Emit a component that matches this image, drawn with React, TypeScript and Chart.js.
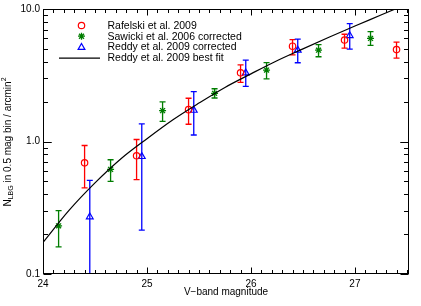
import React, { useEffect, useRef } from "react";
import { Chart, registerables } from "chart.js";

Chart.register(...registerables);

// ---- data ----
const rafelskiMag = [24.4, 24.9, 25.4, 25.9, 26.4, 26.9, 27.4];
const rafelskiN = [0.69, 0.78, 1.74, 3.3, 5.24, 5.83, 4.94];
const rafelskiLo = [0.446, 0.515, 1.35, 2.79, 4.51, 5.07, 4.26];
const rafelskiHi = [0.933, 1.035, 2.12, 3.79, 5.87, 6.45, 5.62];

const sawickiMag = [24.15, 24.65, 25.15, 25.65, 26.15, 26.65, 27.15];
const sawickiN = [0.231, 0.616, 1.71, 2.31, 3.46, 4.89, 6.0];
const sawickiLo = [0.16, 0.5, 1.42, 2.13, 2.97, 4.36, 5.31];
const sawickiHi = [0.301, 0.728, 1.99, 2.5, 3.94, 5.38, 6.75];

const reddyMag = [24.45, 24.95, 25.45, 25.95, 26.45, 26.95];
const reddyN = [0.27, 0.77, 1.72, 3.29, 4.89, 6.3];
const reddyLo = [0.01, 0.214, 1.12, 2.61, 3.93, 4.98];
const reddyHi = [0.509, 1.36, 2.38, 4.11, 5.92, 7.76];

const fitMag = [24.0, 24.25, 24.5, 24.75, 25.0, 25.25, 25.5, 25.75, 26.0, 26.25, 26.5, 26.75, 27.0, 27.25, 27.5];
const fitN = [0.173, 0.302, 0.487, 0.741, 1.05, 1.46, 1.95, 2.56, 3.24, 4.07, 5.0, 6.12, 7.45, 9.0, 10.9];

const xTickValues = [24, 25, 26, 27];
const xTickLabels = ["24", "25", "26", "27"];
const yTickValues = [0.1, 1, 10];
const yTickLabels = ["0.1", "1.0", "10.0"];

const legendLabels = [
  "Rafelski et al. 2009",
  "Sawicki et al. 2006 corrected",
  "Reddy et al. 2009 corrected",
  "Reddy et al. 2009 best fit",
];

const RED = "rgb(255,0,0)";
const GREEN = "rgb(0,125,0)";
const BLUE = "rgb(0,0,255)";
const FONT = '"Liberation Sans", Arial, Helvetica, sans-serif';

const pts = (xs: number[], ys: number[]) => xs.map((x, i) => ({ x, y: ys[i] }));

export default function App() {
  const ref = useRef<HTMLCanvasElement>(null);

  useEffect(() => {
    document.body.style.margin = "0";
    const canvas = ref.current!;

    const errSeries = [
      { xs: rafelskiMag, lo: rafelskiLo, hi: rafelskiHi, color: RED },
      { xs: sawickiMag, lo: sawickiLo, hi: sawickiHi, color: GREEN },
      { xs: reddyMag, lo: reddyLo, hi: reddyHi, color: BLUE },
    ];

    const errorBars = {
      id: "errorBars",
      beforeDatasetsDraw(chart: any) {
        const { ctx, chartArea: a, scales } = chart;
        const xs = scales.x, ys = scales.y;
        ctx.save();
        ctx.beginPath();
        ctx.rect(a.left, a.top, a.right - a.left, a.bottom - a.top);
        ctx.clip();
        ctx.lineWidth = 1.3;
        for (const s of errSeries) {
          ctx.strokeStyle = s.color;
          s.xs.forEach((xv, i) => {
            const px = xs.getPixelForValue(xv);
            const pl = ys.getPixelForValue(s.lo[i]);
            const ph = ys.getPixelForValue(s.hi[i]);
            ctx.beginPath();
            ctx.moveTo(px, pl);
            ctx.lineTo(px, ph);
            ctx.moveTo(px - 3, pl);
            ctx.lineTo(px + 3, pl);
            ctx.moveTo(px - 3, ph);
            ctx.lineTo(px + 3, ph);
            ctx.stroke();
          });
        }
        ctx.restore();
      },
    };

    const frame = {
      id: "frame",
      afterDraw(chart: any) {
        const { ctx, chartArea: a, scales } = chart;
        const xs = scales.x, ys = scales.y;
        ctx.save();
        ctx.strokeStyle = "#000";
        ctx.lineWidth = 1;
        const L = Math.round(a.left) + 0.5, R = Math.round(a.right) - 0.5;
        const T = Math.round(a.top) + 0.5, B = Math.round(a.bottom) - 0.5;
        ctx.strokeRect(L, T, R - L, B - T);
        ctx.beginPath();
        for (let k = 0; k <= 35; k++) {
          const v = 24 + k * 0.1;
          if (v > xs.max + 1e-9) break;
          const major = k % 10 === 0;
          const len = major ? 6 : 3.5;
          const px = Math.round(xs.getPixelForValue(v)) + 0.5;
          ctx.moveTo(px, B);
          ctx.lineTo(px, B - len);
          ctx.moveTo(px, T);
          ctx.lineTo(px, T + len);
        }
        for (const dec of [0.1, 1]) {
          for (let m = 1; m <= 10; m++) {
            const v = dec * m;
            const major = m === 1 || m === 10;
            const len = major ? 8 : 4.5;
            const py = Math.round(ys.getPixelForValue(v)) + 0.5;
            ctx.moveTo(L, py);
            ctx.lineTo(L + len, py);
            ctx.moveTo(R, py);
            ctx.lineTo(R - len, py);
          }
        }
        ctx.stroke();
        ctx.restore();
      },
    };

    const legend = {
      id: "customLegend",
      afterDraw(chart: any) {
        const ctx = chart.ctx;
        ctx.save();
        const mx = 81.5, tx = 107.5, y0 = 25.5, dy = 10.7;
        ctx.lineWidth = 1.2;
        ctx.strokeStyle = RED;
        ctx.beginPath();
        ctx.arc(mx, y0, 3.2, 0, Math.PI * 2);
        ctx.stroke();
        ctx.strokeStyle = GREEN;
        ctx.lineWidth = 1.3;
        const gy = y0 + dy;
        ctx.beginPath();
        const r = 3.5;
        ctx.moveTo(mx - r, gy); ctx.lineTo(mx + r, gy);
        ctx.moveTo(mx, gy - r); ctx.lineTo(mx, gy + r);
        const d = r * 0.707;
        ctx.moveTo(mx - d, gy - d); ctx.lineTo(mx + d, gy + d);
        ctx.moveTo(mx - d, gy + d); ctx.lineTo(mx + d, gy - d);
        ctx.stroke();
        ctx.strokeStyle = BLUE;
        ctx.lineWidth = 1.2;
        const by = y0 + 2 * dy + 0.5;
        const tr = 3.9;
        ctx.beginPath();
        ctx.moveTo(mx, by - tr);
        ctx.lineTo(mx + tr * 0.866, by + tr * 0.5);
        ctx.lineTo(mx - tr * 0.866, by + tr * 0.5);
        ctx.closePath();
        ctx.stroke();
        ctx.strokeStyle = "#000";
        ctx.lineWidth = 1.2;
        const ly = y0 + 3 * dy + 0.5;
        ctx.beginPath();
        ctx.moveTo(59, ly);
        ctx.lineTo(100, ly);
        ctx.stroke();
        ctx.fillStyle = "#000";
        ctx.font = `10.5px ${FONT}`;
        ctx.textBaseline = "middle";
        ctx.textAlign = "left";
        legendLabels.forEach((t, i) => ctx.fillText(t, tx, y0 + i * dy + 0.5));
        ctx.restore();
      },
    };

    const yTitle = {
      id: "yTitle",
      afterDraw(chart: any) {
        const ctx = chart.ctx;
        ctx.save();
        ctx.translate(10.5, 142);
        ctx.rotate(-Math.PI / 2);
        ctx.fillStyle = "#000";
        ctx.textBaseline = "alphabetic";
        ctx.textAlign = "left";
        const big = `10px ${FONT}`;
        const small = `7px ${FONT}`;
        const parts = [
          { t: "N", f: big, dy: 0 },
          { t: "LBG", f: small, dy: 2.5 },
          { t: " in 0.5 mag bin / arcmin", f: big, dy: 0 },
          { t: "2", f: small, dy: -4.5 },
        ];
        let W = 0;
        const widths = parts.map((p) => {
          ctx.font = p.f;
          const w = ctx.measureText(p.t).width;
          W += w;
          return w;
        });
        let x = -W / 2;
        parts.forEach((p, i) => {
          ctx.font = p.f;
          ctx.fillText(p.t, x, p.dy);
          x += widths[i];
        });
        ctx.restore();
      },
    };

    const chart = new Chart(canvas, {
      type: "scatter",
      data: {
        datasets: [
          {
            label: legendLabels[3],
            data: pts(fitMag, fitN),
            showLine: true,
            borderColor: "#000",
            borderWidth: 1.2,
            pointRadius: 0,
            cubicInterpolationMode: "monotone",
          },
          {
            label: legendLabels[0],
            data: pts(rafelskiMag, rafelskiN),
            pointStyle: "circle",
            pointRadius: 3.2,
            borderColor: RED,
            backgroundColor: "rgba(0,0,0,0)",
            borderWidth: 1.2,
          },
          {
            label: legendLabels[1],
            data: pts(sawickiMag, sawickiN),
            pointStyle: "star",
            pointRadius: 3.5,
            borderColor: GREEN,
            backgroundColor: GREEN,
            borderWidth: 1.3,
          },
          {
            label: legendLabels[2],
            data: pts(reddyMag, reddyN),
            pointStyle: "triangle",
            pointRadius: 3.9,
            borderColor: BLUE,
            backgroundColor: "rgba(0,0,0,0)",
            borderWidth: 1.2,
          },
        ],
      } as any,
      options: {
        responsive: false,
        animation: false,
        devicePixelRatio: 1,
        layout: { padding: { top: 8, right: 12, left: 0, bottom: 0 } },
        plugins: {
          legend: { display: false },
          tooltip: { enabled: false },
        },
        scales: {
          x: {
            type: "linear",
            min: 24,
            max: 27.52,
            afterBuildTicks: (s: any) => {
              s.ticks = xTickValues.map((v) => ({ value: v }));
            },
            afterFit: (s: any) => {
              s.height = 32;
            },
            ticks: {
              color: "#000",
              font: { family: FONT, size: 10 },
              padding: 4,
              maxRotation: 0,
              autoSkip: false,
              callback: (v: any) => xTickLabels[xTickValues.indexOf(Number(v))] ?? "",
            },
            grid: { display: false, drawTicks: false },
            border: { display: false },
            title: {
              display: true,
              text: "V−band magnitude",
              color: "#000",
              font: { family: FONT, size: 10 },
              padding: { top: 0, bottom: 8 },
            },
          },
          y: {
            type: "logarithmic",
            min: 0.1,
            max: 10,
            afterBuildTicks: (s: any) => {
              s.ticks = yTickValues.map((v) => ({ value: v }));
            },
            afterFit: (s: any) => {
              s.width = 43;
            },
            ticks: {
              color: "#000",
              font: { family: FONT, size: 10 },
              padding: 3,
              autoSkip: false,
              callback: (v: any) => {
                const i = yTickValues.findIndex((t) => Math.abs(t - Number(v)) < 1e-9);
                return i >= 0 ? yTickLabels[i] : "";
              },
            },
            grid: { display: false, drawTicks: false },
            border: { display: false },
          },
        },
      } as any,
      plugins: [errorBars, frame, legend, yTitle],
    });

    return () => chart.destroy();
  }, []);

  return <canvas ref={ref} width={421} height={306} style={{ display: "block" }} />;
}
